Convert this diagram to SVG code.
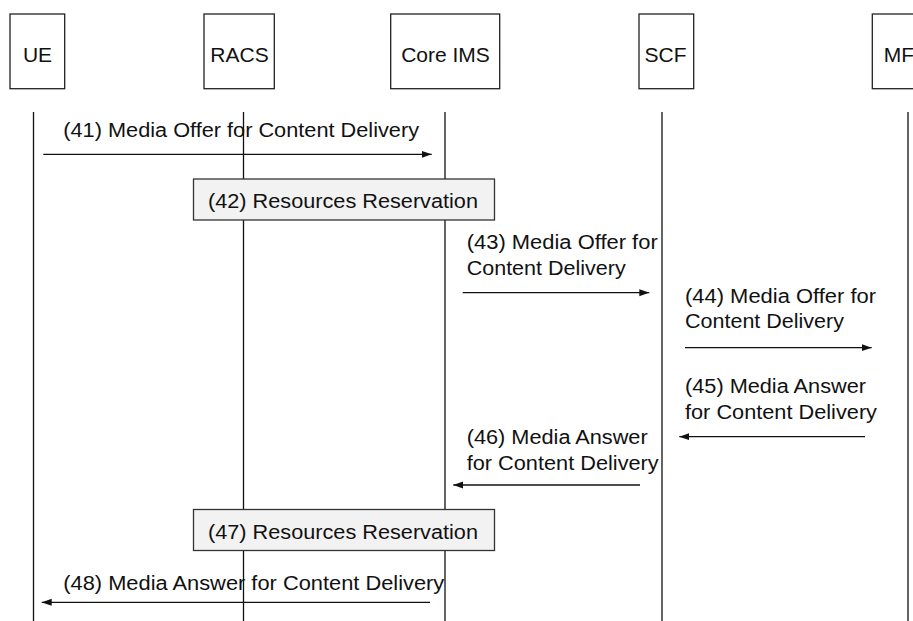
<svg xmlns="http://www.w3.org/2000/svg" width="913" height="621" viewBox="0 0 913 621">
<style>
  .hdr rect { fill: #ffffff; stroke: #222222; stroke-width: 1.3; }
  .hdr text { font-family: "Liberation Sans", Arial, sans-serif; font-size: 21px; fill: #111111; text-anchor: middle; }
  .life { stroke: #111111; stroke-width: 1.3; }
  .msg { stroke: #111111; stroke-width: 1.3; fill: none; }
  .lbl { font-family: "Liberation Sans", Arial, sans-serif; font-size: 20px; fill: #111111; }
  .act rect { fill: #f2f2f2; stroke: #333333; stroke-width: 1.3; }
  .act text { font-family: "Liberation Sans", Arial, sans-serif; font-size: 20px; fill: #111111; }
</style>
<defs>
  <marker id="ah" markerUnits="userSpaceOnUse" markerWidth="10" markerHeight="8" refX="10" refY="4" orient="auto">
    <path d="M0,0.5 L10,4 L0,7.5 z" fill="#111111"/>
  </marker>
</defs>
<rect x="0" y="0" width="913" height="621" fill="#ffffff"/>

<g id="lifelines">
  <line class="life" x1="33.5" y1="112" x2="33.5" y2="621"/>
  <line class="life" x1="243.5" y1="112" x2="243.5" y2="621"/>
  <line class="life" x1="445" y1="112" x2="445" y2="621"/>
  <line class="life" x1="662" y1="112" x2="662" y2="621"/>
  <line class="life" x1="908" y1="112" x2="908" y2="621"/>
</g>

<g id="node-ue" class="hdr">
  <rect x="10" y="14" width="54.7" height="74.7"/>
  <text x="37.5" y="61.5">UE</text>
</g>
<g id="node-racs" class="hdr">
  <rect x="204" y="14" width="70.3" height="74.7"/>
  <text x="239.5" y="61.5">RACS</text>
</g>
<g id="node-coreims" class="hdr">
  <rect x="390.7" y="14" width="109" height="74.7"/>
  <text x="445.5" y="61.5">Core IMS</text>
</g>
<g id="node-scf" class="hdr">
  <rect x="639" y="14" width="54.7" height="74.7"/>
  <text x="665.5" y="61.5">SCF</text>
</g>
<g id="node-mf" class="hdr">
  <rect x="872.3" y="14" width="72" height="74.7"/>
  <text x="883.7" y="61.5" style="text-anchor:start">MF</text>
</g>

<g id="node-42" class="act">
  <rect x="193.5" y="179" width="301" height="41"/>
  <text x="208" y="208.3" textLength="270" lengthAdjust="spacingAndGlyphs">(42) Resources Reservation</text>
</g>
<g id="node-47" class="act">
  <rect x="193.5" y="509.5" width="301" height="41"/>
  <text x="208" y="539.3" textLength="270" lengthAdjust="spacingAndGlyphs">(47) Resources Reservation</text>
</g>

<g id="connectors">
  <line class="msg" x1="43.3" y1="154.3" x2="431.7" y2="154.3" marker-end="url(#ah)"/>
  <line class="msg" x1="462.7" y1="292.7" x2="649.3" y2="292.7" marker-end="url(#ah)"/>
  <line class="msg" x1="685" y1="347.7" x2="871.7" y2="347.7" marker-end="url(#ah)"/>
  <line class="msg" x1="865" y1="436.7" x2="679.3" y2="436.7" marker-end="url(#ah)"/>
  <line class="msg" x1="640" y1="485" x2="453.3" y2="485" marker-end="url(#ah)"/>
  <line class="msg" x1="430" y1="602.3" x2="41.7" y2="602.3" marker-end="url(#ah)"/>
</g>

<g id="labels">
  <text class="lbl" x="63.3" y="136.7" textLength="355.7" lengthAdjust="spacingAndGlyphs">(41) Media Offer for Content Delivery</text>
  <text class="lbl" x="466.7" y="249.3" textLength="191" lengthAdjust="spacingAndGlyphs">(43) Media Offer for</text>
  <text class="lbl" x="466.7" y="274.5" textLength="159" lengthAdjust="spacingAndGlyphs">Content Delivery</text>
  <text class="lbl" x="685" y="303" textLength="191" lengthAdjust="spacingAndGlyphs">(44) Media Offer for</text>
  <text class="lbl" x="685" y="328" textLength="159" lengthAdjust="spacingAndGlyphs">Content Delivery</text>
  <text class="lbl" x="685" y="393.3" textLength="181" lengthAdjust="spacingAndGlyphs">(45) Media Answer</text>
  <text class="lbl" x="685" y="419" textLength="192" lengthAdjust="spacingAndGlyphs">for Content Delivery</text>
  <text class="lbl" x="466.7" y="444.3" textLength="181" lengthAdjust="spacingAndGlyphs">(46) Media Answer</text>
  <text class="lbl" x="466.7" y="470" textLength="192" lengthAdjust="spacingAndGlyphs">for Content Delivery</text>
  <text class="lbl" x="63.3" y="590" textLength="381" lengthAdjust="spacingAndGlyphs">(48) Media Answer for Content Delivery</text>
</g>
</svg>
